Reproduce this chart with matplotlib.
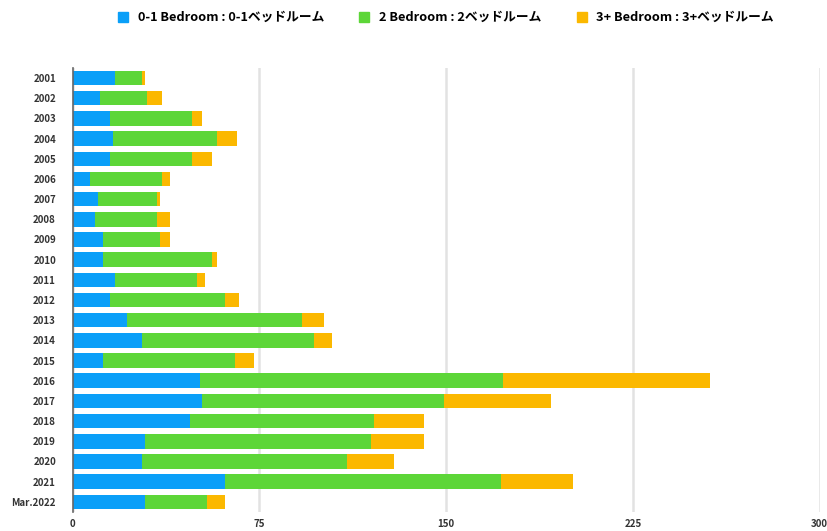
import matplotlib
matplotlib.use("Agg")
import matplotlib.pyplot as plt
from matplotlib.lines import Line2D
import numpy as np

plt.rcParams['font.family'] = ['Noto Sans CJK JP', 'DejaVu Sans']

categories = ["2001", "2002", "2003", "2004", "2005", "2006", "2007", "2008", "2009", "2010",
              "2011", "2012", "2013", "2014", "2015", "2016", "2017", "2018", "2019", "2020",
              "2021", "Mar.2022"]
bed01 = [17, 11, 15, 16, 15, 7, 10, 9, 12, 12, 17, 15, 22, 28, 12, 51, 52, 47, 29, 28, 61, 29]
bed2 = [11, 19, 33, 42, 33, 29, 24, 25, 23, 44, 33, 46, 70, 69, 53, 122, 97, 74, 91, 82, 111, 25]
bed3 = [1, 6, 4, 8, 8, 3, 1, 5, 4, 2, 3, 6, 9, 7, 8, 83, 43, 20, 21, 19, 29, 7]
series_names = ["0-1 Bedroom : 0-1ベッドルーム", "2 Bedroom : 2ベッドルーム", "3+ Bedroom : 3+ベッドルーム"]
xticks = [0, 75, 150, 225, 300]

colors = ["#0A9FF8", "#5DD638", "#FBB800"]

fig = plt.figure(figsize=(8.28, 5.31), dpi=100)
ax = fig.add_axes([0.0878, 0.036, 0.902, 0.836])

y = np.arange(len(categories))
left = np.zeros(len(categories))
for vals, c in zip([bed01, bed2, bed3], colors):
    ax.barh(y, vals, left=left, height=0.72, color=c, zorder=3)
    left = left + np.array(vals)

ax.set_ylim(len(categories) - 0.5, -0.5)
ax.set_xlim(0, 300)
ax.set_xticks(xticks)
ax.set_xticklabels([str(t) for t in xticks], fontsize=7, fontweight='bold', color='#333333')
ax.set_yticks(y)
ax.set_yticklabels(categories, fontsize=7, fontweight='bold', color='#333333')
ax.tick_params(axis='both', length=0, pad=5)
ax.tick_params(axis='y', pad=12)
for s in ['top', 'right', 'bottom']:
    ax.spines[s].set_visible(False)
ax.spines['left'].set_color('#666666')
ax.spines['left'].set_linewidth(1.2)
ax.spines['left'].set_zorder(4)
ax.grid(axis='x', color='#E2E2E2', linewidth=1.8, zorder=0)
ax.set_axisbelow(True)

handles = [Line2D([0], [0], marker='s', linestyle='none', markersize=7,
                  markerfacecolor=c, markeredgecolor=c) for c in colors]
fig.legend(handles, series_names, loc='center', bbox_to_anchor=(0.539, 0.967), ncol=3,
           frameon=False, prop={'size': 9.2, 'weight': 'bold'}, columnspacing=2.8,
           handletextpad=0.8, handlelength=0.7)

fig.savefig("out.png", dpi=100)
